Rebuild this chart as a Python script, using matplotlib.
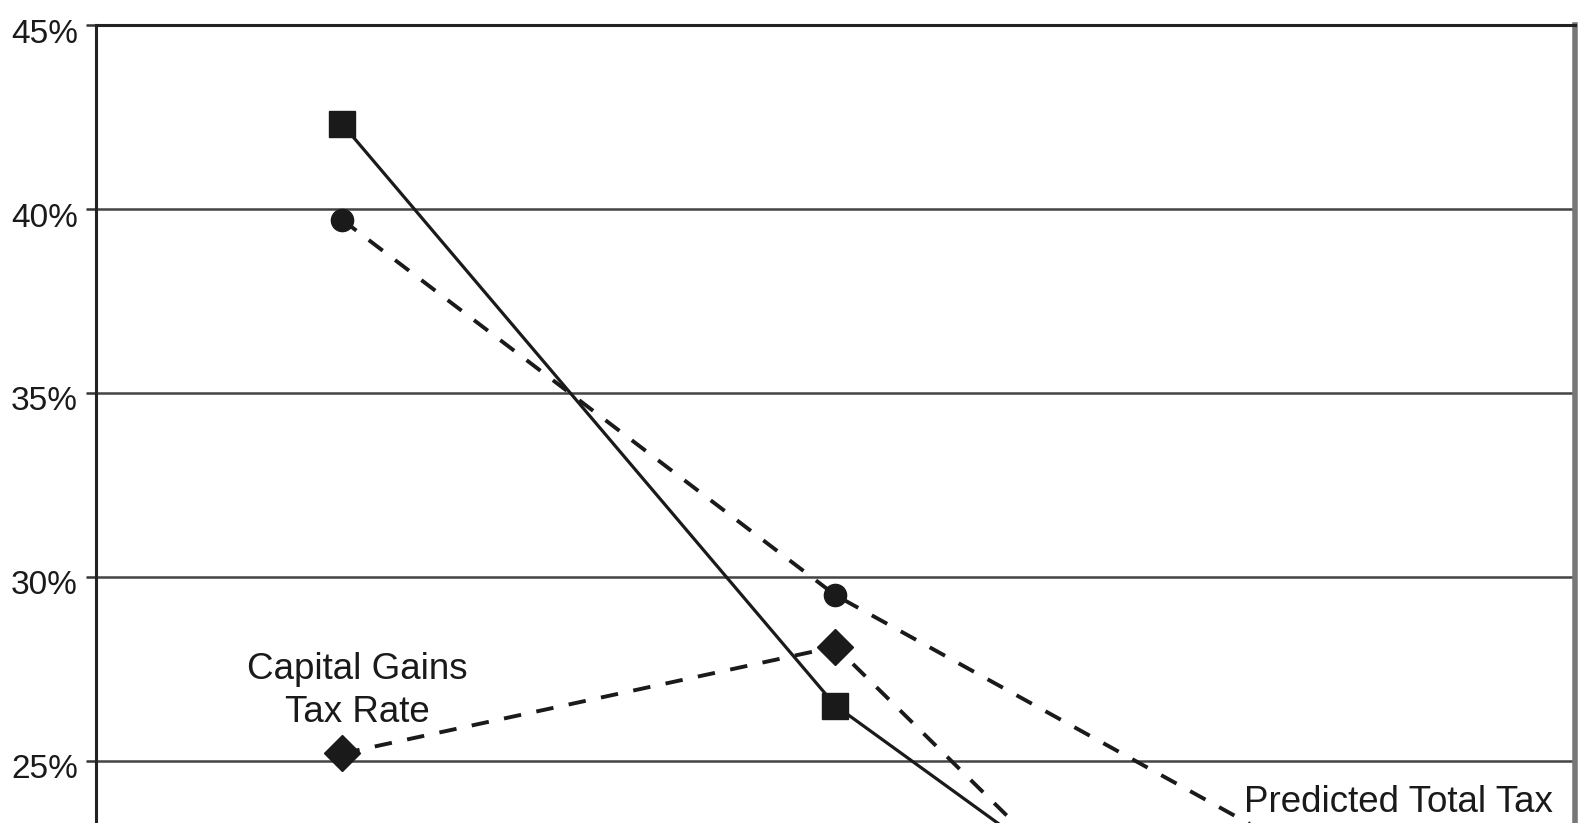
import numpy                 as np
import matplotlib.pyplot     as plt
import matplotlib.transforms as mtransforms

# Three periods on a category axis, rates in percent
periods = ['1', '2', '3']
total_tax = [42.3, 26.5, 16.8]            # solid line, square markers
predicted_total_tax = [39.7, 29.5, 22.1]  # dashed line, circle markers
capital_gains_rate = [25.2, 28.1, 14.9]   # dashed line, diamond markers
y_ticks = [25, 30, 35, 40, 45]

plt.rcParams['font.family'] = ['Liberation Sans', 'DejaVu Sans']

fig = plt.figure(figsize=(15.81, 8.23), dpi=100)
ax = fig.add_axes([0.0607, -0.595, 0.9355, 1.5646])

x = np.arange(len(periods)) + 0.5
ink = '#1a1a1a'
ax.plot(x, total_tax, color=ink, linewidth=2.3, marker='s', markersize=19,
        zorder=3)
ax.plot(x, predicted_total_tax, color=ink, linewidth=2.8, dashes=(4.5, 4),
        marker='o', markersize=16, zorder=3)
ax.plot(x, capital_gains_rate, color=ink, linewidth=2.8, dashes=(4.5, 4),
        marker='D', markersize=18, zorder=3)

ax.text(0.53, 26.9, 'Capital Gains\nTax Rate', fontsize=26.5, ha='center',
        va='center', color=ink, linespacing=1.3)
ax.text(2.955, 23.6, 'Predicted Total Tax', fontsize=26.5, ha='right',
        va='baseline', color=ink)

ax.set_xlim(0, 3)
ax.set_ylim(10, 45)
ax.set_xticks([])
ax.set_yticks(y_ticks)
ax.set_yticklabels(['%d%%' % t for t in y_ticks])
ax.tick_params(axis='y', labelsize=24, length=7, width=1.8, pad=6,
               color='#333333', labelcolor=ink)

# labels sit a little below their gridlines
shift = mtransforms.ScaledTranslation(0, -4 / 72, fig.dpi_scale_trans)
for label in ax.get_yticklabels():
    label.set_transform(label.get_transform() + shift)

ax.yaxis.grid(True, color='#444444', linewidth=1.8)
ax.set_axisbelow(True)
for side in ['top', 'left']:
    ax.spines[side].set_linewidth(2.2)
    ax.spines[side].set_color('#222222')
ax.spines['right'].set_linewidth(4)
ax.spines['right'].set_color('#777777')
ax.spines['bottom'].set_visible(False)

fig.savefig('out.png', dpi=100)
